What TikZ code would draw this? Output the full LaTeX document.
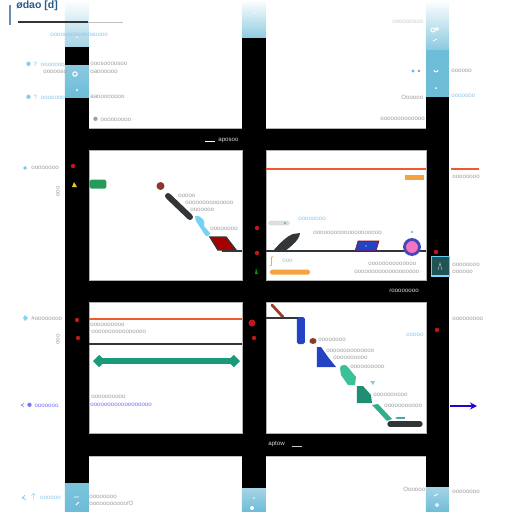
\documentclass[tikz,border=0pt]{standalone}
\usepackage{fontspec}
\setmainfont{Liberation Sans}
\usetikzlibrary{arrows.meta,shapes.geometric}
\definecolor{barblue}{HTML}{6DBCD8}
\definecolor{paleblue}{HTML}{A6D4E6}
\definecolor{ltxtblue}{HTML}{8CC8EA}
\definecolor{redorange}{HTML}{EE5A2C}
\definecolor{orangebox}{HTML}{F4A340}
\definecolor{greenarrow}{HTML}{1A9A78}
\definecolor{greenbox}{HTML}{259A5A}
\definecolor{tealA}{HTML}{2FAE8C}
\definecolor{tealB}{HTML}{1F8E72}
\definecolor{tealC}{HTML}{3CC09A}
\definecolor{deepblue}{HTML}{2442C4}
\definecolor{brownc}{HTML}{8A3A2C}
\definecolor{darkbar}{HTML}{333638}
\definecolor{titleblue}{HTML}{2A5C8A}
\definecolor{redmark}{HTML}{C01818}
\tikzset{
  txt/.style={font=\fontsize{3.5}{4}\selectfont, text=gray!75, inner sep=0, anchor=west},
  ltxt/.style={txt, text=ltxtblue},
  btxt/.style={txt, text=blue!55},
  wtxt/.style={txt, text=gray!40},
  otxt/.style={txt, text=orangebox},
  reddot/.style={circle, fill=redmark, inner sep=0, minimum size=2.5pt},
  panel/.style={draw=gray!60, line width=0.3pt, fill=white},
}
\begin{document}
\begin{tikzpicture}[x=0.02cm,y=-0.02cm]
\useasboundingbox (0,0) rectangle (512,512);
\fill[white] (0,0) rectangle (512,512);
% black frame
\fill[black] (65,128) rectangle (449,150);
\fill[black] (65,280) rectangle (449,302);
\fill[black] (65,433) rectangle (449,456);
\fill[black] (65,0) rectangle (89,512);
\fill[black] (242,0) rectangle (266,512);
\fill[black] (426,0) rectangle (449,512);
% white panels
\fill[white] (89,0) rectangle (242,128);
\fill[white] (266,0) rectangle (426,128);
\draw[gray!60, line width=0.3pt] (89,128) -- (242,128) (266,128) -- (426,128);
\draw[panel] (89,150) rectangle (242,280);
\draw[panel] (266,150) rectangle (426,280);
\draw[panel] (89,302) rectangle (242,433);
\draw[panel] (266,302) rectangle (426,433);
\fill[white] (89,456) rectangle (242,512);
\fill[white] (266,456) rectangle (426,512);
\draw[gray!50, line width=0.3pt] (89,456) -- (242,456) (266,456) -- (426,456);
% blue bar caps (top)
\shade[top color=white, bottom color=paleblue] (65,0) rectangle (89,46);
\shade[top color=barblue!80, bottom color=barblue] (65,65) rectangle (89,97);
\shade[top color=white, bottom color=barblue!75] (242,0) rectangle (266,37);
\shade[top color=white, bottom color=barblue!80] (426,0) rectangle (449,50);
\fill[barblue] (426,50) rectangle (449,97);
% blue bar caps (bottom)
\shade[top color=barblue!90, bottom color=barblue] (65,483) rectangle (89,512);
\shade[top color=paleblue, bottom color=barblue] (242,488) rectangle (266,512);
\shade[top color=paleblue, bottom color=barblue] (426,487) rectangle (449,512);
% small white icons on blue caps
\draw[white, line width=0.6pt] (75,74) circle (2.2);
\fill[white] (77,90) circle (1.2);
\fill[white] (77,37) circle (0.9);
\draw[white, line width=0.5pt] (433,30) circle (2) (437,29) circle (1.5);
\draw[white, line width=0.5pt] (433,41) -- (437,39);
\draw[white, line width=0.5pt] (434,70) arc (180:0:2);
\fill[white] (436,88) circle (1);
\fill[white] (254,13) circle (0.8);
\fill[white] (254,498) circle (0.8);
\fill[white] (252,508) circle (2);
\draw[white, line width=0.5pt] (74,497) -- (79,497) (76,505) -- (79,502);
\draw[white, line width=0.5pt] (434,496) -- (438,494);
\draw[white, line width=0.5pt] (437,505) circle (1.5);

% title
\draw[titleblue!70, line width=0.8pt] (10,5) -- (10,25);
\node[anchor=west, inner sep=0, text=titleblue, font=\fontsize{6}{6}\selectfont\bfseries] (title) at (16,6) {ødao [d]};
\coordinate (tl1) at (18,22);
\coordinate (tl2) at (88,22);
\coordinate (tl3) at (123,22);
\draw[darkbar, line width=0.7pt] (tl1) -- (tl2);
\draw[gray!50, line width=0.4pt] (tl2) -- (tl3);

% top-left texts
\node[ltxt] (t1) at (50,35) {ooooooosoooosoooo};
\node[ltxt] (t2) at (25,64) {$\bullet$ ? \ ooooooo};
\node[txt] (t3) at (90,64) {ooosoooosoo};
\node[txt] (t4) at (43,72) {oooooso};
\node[txt] (t5) at (90,72) {oaoooooo};
\node[ltxt] (t6) at (25,97) {$\bullet$ ? \ ooooooo};
\node[txt] (t7) at (90,97) {aaoooooooo};
\node[txt] (t8) at (92,119) {$\bullet$ ooooooooo};
% top-right texts
\node[wtxt] (t9) at (392,22) {ooooooooo};
\fill[cyan!70] (413,71) circle (1.6);
\fill[violet!50] (419,71) circle (1.4);
\node[txt] (t10) at (451,71) {oooooo};
\node[txt] (t11) at (401,97) {Oooooo};
\node[ltxt] (t12) at (451,96) {ooooooo};
\node[txt] (t13) at (380,119) {ooooooooooooo};

% bar labels
\coordinate (bd1) at (205,141);
\coordinate (bd2) at (215,141);
\draw[white, line width=0.5pt] (bd1) -- (bd2);
\node[txt, text=gray!30] (t14) at (218,140) {aposoo};
\node[txt, text=gray!30] (t15) at (389,291) {ɾoooooooo};
\node[txt, text=gray!30] (t16) at (268,444) {aptow};
\coordinate (bd3) at (292,446);
\coordinate (bd4) at (302,446);
\draw[gray!40, line width=0.5pt] (bd3) -- (bd4);

% ---- row 1 left margin
\fill[cyan!60] (25,168) circle (1.8);
\node[txt] (t17) at (31,168) {oooooooo};
\node[reddot] (rd1) at (73,166) {};
\fill[yellow!60!brown] (72,187) -- (74,182) -- (77,187) -- cycle;
\node[txt, rotate=90] (t18) at (58,197) {ooo};

% ---- row 1 left panel
\node[draw=none, fill=greenbox, rounded corners=1pt, minimum width=17*0.02cm, minimum height=9*0.02cm, inner sep=0] (grn) at (98,184) {};
\node[circle, fill=brownc, inner sep=0, minimum size=8*0.02cm] (bc1) at (160.5,186) {};
\coordinate (db1) at (168,196);
\coordinate (db2) at (190,217);
\draw[darkbar, line width=3.4pt, line cap=round] (db1) -- (db2);
\fill[cyan!55] (195,216) .. controls (202,215) and (206,222) .. (204,226) -- (210,233) .. controls (209,237) and (206,237) .. (205,235) -- (196,221) -- cycle;
\filldraw[fill=red!65!black, draw=darkbar, line width=0.8pt] (210,237) -- (226,237) -- (236,250) -- (218,250) -- cycle;
\node[txt] (t19) at (178,196) {ooooo};
\node[txt] (t20) at (185,203) {oooooooooooooo};
\node[txt] (t21) at (190,210) {ooooooo};
\node[txt] (t22) at (210,229) {oooooooo};
\coordinate (ln1) at (222,251);
\coordinate (ln2) at (242,251);
\draw[darkbar, line width=0.8pt] (ln1) -- (ln2);

% middle bar dots
\node[reddot] (rd2) at (257,228) {};
\node[reddot] (rd3) at (257,253) {};
\fill[green!60!black] (255,274) -- (256,268) -- (258,274) -- cycle;

% ---- row 1 right panel
\coordinate (or1) at (266,169);
\coordinate (or2) at (426,169);
\coordinate (or3) at (451,169);
\coordinate (or4) at (479,169);
\draw[redorange, line width=0.9pt] (or1) -- (or2);
\draw[redorange, line width=0.9pt] (or3) -- (or4);
\node[fill=orangebox, inner sep=0, minimum width=19*0.02cm, minimum height=5*0.02cm] (ob1) at (415,177) {};
\node[txt] (t23) at (452,177) {oooooooo};
\node[fill=gray!25, draw=gray!40, line width=0.2pt, rounded corners=1pt, inner sep=0, minimum width=21*0.02cm, minimum height=4*0.02cm] (sb1) at (279,223) {};
\fill[teal!50] (285,223) circle (1.5);
\node[ltxt] (t24) at (298,219) {oooooooo};
\node[txt] (t25) at (313,233) {oooooooooooooooooooo};
\fill[darkbar] (273,251) .. controls (280,243) and (287,236) .. (293,234) -- (300,233) .. controls (300,237) and (296,243) .. (285,251) -- cycle;
\coordinate (bl1) at (266,251);
\coordinate (bl2) at (426,251);
\draw[darkbar, line width=0.8pt] (bl1) -- (bl2);
\filldraw[fill=deepblue, draw=red!60!black, line width=0.3pt] (358,241) -- (379,241) -- (376,251) -- (355,251) -- cycle;
\fill[white] (366,246) circle (0.7);
\node[circle, draw=blue!45!gray, line width=1.6pt, fill=magenta!55, inner sep=0, minimum size=15*0.02cm] (pk) at (412,247) {};
\fill[cyan!60] (412,232) circle (1.3);
\node[reddot] (rd4) at (436,252) {};
\node[otxt, font=\fontsize{6}{6}\selectfont] (t26) at (270,262) {ʃ};
\node[txt, text=gray!55] (t27) at (282,261) {ooo};
\node[fill=orangebox, inner sep=0, minimum width=40*0.02cm, minimum height=5*0.02cm, rounded corners=1pt] (ob2) at (290,272) {};
\node[txt] (t28) at (368,264) {oooooooooooooo};
\node[txt] (t29) at (354,272) {ooooooooooooooooooo};
\node[draw=cyan!60, line width=0.3pt, fill=teal!40!darkbar, inner sep=0, minimum width=18*0.02cm, minimum height=20*0.02cm] (tb) at (440,266) {};
\draw[cyan!50, line width=1pt] (tb.south west) -- (tb.south east);
\draw[gray!60, line width=0.3pt] (438,270) -- (440,263) -- (442,270);
\node[txt] (t30) at (452,265) {oooooooo};
\node[txt] (t31) at (452,272) {oooooo};

% ---- row 2 left margin
\fill[cyan!50] (23,318) -- (25,315) -- (28,318) -- (25,321) -- cycle;
\node[txt] (t32) at (31,318) {$\#$oooooooo};
\node[reddot] (rd5) at (77,320) {};
\node[reddot] (rd6) at (78,338) {};
\node[txt, rotate=90] (t33) at (58,345) {ooo};
\draw[blue!40, line width=0.4pt] (21,406) -- (24,403) (21,404) -- (24,407);
\node[btxt] (t34) at (26,405) {$\bullet$ ooooooo};

% ---- row 2 left panel
\coordinate (or5) at (89,319);
\coordinate (or6) at (242,319);
\draw[redorange, line width=0.9pt] (or5) -- (or6);
\node[txt] (t35) at (90,325) {oooooooooo};
\node[txt] (t36) at (91,332) {oooooooooooooooo};
\coordinate (dv1) at (89,344);
\coordinate (dv2) at (242,344);
\draw[darkbar, line width=0.7pt] (dv1) -- (dv2);
\coordinate (ga1) at (93,361);
\coordinate (ga2) at (240,361);
\draw[greenarrow, line width=3pt, {Diamond[length=7pt,width=7pt]}-{Diamond[length=7pt,width=7pt]}] (ga1) -- (ga2);
\node[txt] (t37) at (91,397) {oooooooooo};
\node[btxt] (t38) at (90,405) {oooooooooooooooooo};

% middle bar dots row 2
\node[circle, fill=redmark, inner sep=0, minimum size=4pt] (rd7) at (252,323) {};
\node[reddot] (rd8) at (254,338) {};

% ---- row 2 right panel
\coordinate (br1) at (272,305);
\coordinate (br2) at (283,317);
\draw[brownc!90!orange, line width=1.6pt, line cap=round] (br1) -- (br2);
\coordinate (hl1) at (266,318);
\coordinate (hl2) at (300,318);
\draw[darkbar, line width=0.8pt] (hl1) -- (hl2);
\node[fill=deepblue, rounded corners=1pt, inner sep=0, minimum width=8*0.02cm, minimum height=27*0.02cm] (bv) at (301,330.5) {};
\node[ellipse, fill=brownc, inner sep=0, minimum width=7*0.02cm, minimum height=6*0.02cm] (bc2) at (313,341) {};
\node[txt] (t39) at (318,340) {oooooooo};
\fill[deepblue] (317,347) -- (321,347) -- (328,357) -- (336,367) -- (317,367) -- cycle;
\node[txt] (t40) at (326,351) {oooooooooooooo};
\node[txt] (t41) at (333,358) {oooooooooo};
\fill[tealC] (340,368) .. controls (340,365) and (345,364) .. (347,366) -- (356,377) -- (355,385) -- (348,385) -- (341,375) -- cycle;
\node[txt] (t42) at (350,367) {oooooooooo};
\fill[ltxtblue] (370,381) -- (373,385) -- (375,381) -- cycle;
\fill[tealB] (357,386) -- (363,386) -- (371,395) -- (372,403) -- (357,403) -- cycle;
\node[txt] (t43) at (373,395) {oooooooooo};
\fill[tealA] (372,405) -- (378,404) -- (392,419) -- (387,421) -- cycle;
\node[txt] (t44) at (384,406) {ooooooooooo};
\coordinate (kb1) at (390,424);
\coordinate (kb2) at (420,424);
\draw[darkbar, line width=3pt, line cap=round] (kb1) -- (kb2);
\coordinate (sa1) at (395,418);
\coordinate (sa2) at (405,418);
\draw[teal!70, line width=0.6pt, -{Stealth[length=2pt]}] (sa2) -- (sa1);
\node[ltxt] (t45) at (406,335) {ooooo};
\node[reddot] (rd9) at (437,330) {};
\node[txt] (t46) at (452,319) {ooooooooo};
\coordinate (pa1) at (450,406);
\coordinate (pa2) at (477,406);
\draw[blue!70!violet, line width=0.9pt, -{Stealth[length=4pt,width=4pt]}] (pa1) -- (pa2);

% ---- bottom row texts
\draw[ltxtblue, line width=0.4pt] (22,499) -- (25,495) (22,497) -- (26,500);
\node[ltxt] (t47) at (30,497) {$\uparrow$ \ oooooo};
\node[txt] (t48) at (89,497) {oooooooo};
\node[txt] (t49) at (89,503) {ooooooooooo/O};
\node[txt] (t50) at (403,489) {Oooooo};
\node[txt] (t51) at (452,492) {oooooooo};
\end{tikzpicture}
\end{document}
